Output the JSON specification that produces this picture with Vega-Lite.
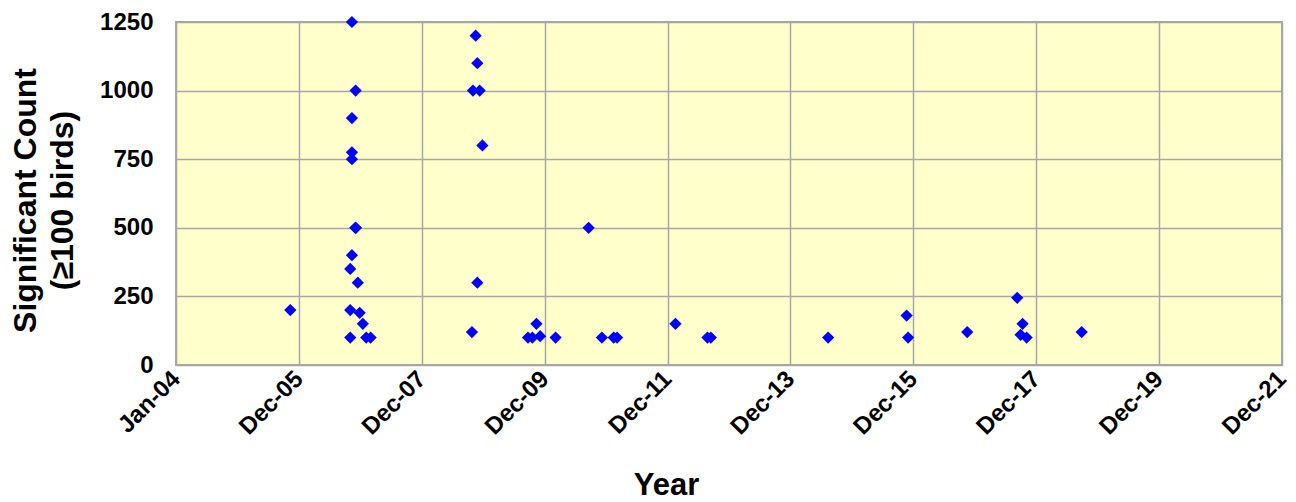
{
  "$schema": "https://vega.github.io/schema/vega-lite/v6.json",
  "width": 1106,
  "height": 343,
  "autosize": "none",
  "padding": {"left": 176, "top": 22, "right": 14, "bottom": 137},
  "background": "white",
  "view": {"fill": "#FFFFCC", "stroke": "#A6A6A6", "strokeWidth": 2},
  "config": {"font": "Liberation Sans"},
  "data": {
    "values": [
      {"date": "2005-11-10", "count": 200},
      {"date": "2006-11-01", "count": 100},
      {"date": "2006-11-01", "count": 200},
      {"date": "2006-11-01", "count": 350},
      {"date": "2006-11-11", "count": 1250},
      {"date": "2006-11-11", "count": 900},
      {"date": "2006-11-11", "count": 775},
      {"date": "2006-11-11", "count": 750},
      {"date": "2006-11-11", "count": 400},
      {"date": "2006-12-03", "count": 1000},
      {"date": "2006-12-01", "count": 500},
      {"date": "2006-12-05", "count": 500},
      {"date": "2006-12-16", "count": 300},
      {"date": "2006-12-27", "count": 190},
      {"date": "2007-01-15", "count": 150},
      {"date": "2007-02-04", "count": 100},
      {"date": "2007-03-02", "count": 100},
      {"date": "2008-10-24", "count": 120},
      {"date": "2008-10-30", "count": 1000},
      {"date": "2008-11-15", "count": 1200},
      {"date": "2008-11-25", "count": 1100},
      {"date": "2008-11-25", "count": 300},
      {"date": "2008-12-09", "count": 1000},
      {"date": "2008-12-25", "count": 800},
      {"date": "2009-09-22", "count": 100},
      {"date": "2009-10-18", "count": 100},
      {"date": "2009-11-11", "count": 150},
      {"date": "2009-12-03", "count": 105},
      {"date": "2010-03-05", "count": 100},
      {"date": "2010-09-17", "count": 500},
      {"date": "2010-12-05", "count": 100},
      {"date": "2011-02-13", "count": 100},
      {"date": "2011-03-05", "count": 100},
      {"date": "2012-02-15", "count": 150},
      {"date": "2012-08-23", "count": 100},
      {"date": "2012-09-12", "count": 100},
      {"date": "2014-08-10", "count": 100},
      {"date": "2015-11-19", "count": 180},
      {"date": "2015-11-28", "count": 100},
      {"date": "2016-11-13", "count": 120},
      {"date": "2017-09-06", "count": 245},
      {"date": "2017-09-26", "count": 110},
      {"date": "2017-10-08", "count": 150},
      {"date": "2017-11-01", "count": 100},
      {"date": "2018-09-24", "count": 120}
    ]
  },
  "mark": {"type": "point", "shape": "diamond", "filled": true, "color": "#0000FF", "size": 150, "opacity": 1},
  "encoding": {
    "x": {
      "field": "date",
      "type": "temporal",
      "scale": {
        "type": "utc",
        "domain": [
          {"year": 2004, "month": 1, "date": 1, "utc": true},
          {"year": 2021, "month": 12, "date": 27, "utc": true}
        ]
      },
      "axis": {
        "values": [
          {"year": 2004, "month": 1, "date": 1, "utc": true},
          {"year": 2005, "month": 12, "date": 31, "utc": true},
          {"year": 2007, "month": 12, "date": 31, "utc": true},
          {"year": 2009, "month": 12, "date": 30, "utc": true},
          {"year": 2011, "month": 12, "date": 30, "utc": true},
          {"year": 2013, "month": 12, "date": 29, "utc": true},
          {"year": 2015, "month": 12, "date": 29, "utc": true},
          {"year": 2017, "month": 12, "date": 28, "utc": true},
          {"year": 2019, "month": 12, "date": 28, "utc": true},
          {"year": 2021, "month": 12, "date": 27, "utc": true}
        ],
        "format": "%b-%y",
        "title": "Year",
        "titleFontSize": 31,
        "titleFontWeight": "bold",
        "titleColor": "#000000",
        "titleAnchor": "middle",
        "titleX": 490,
        "titleY": 129,
        "titleBaseline": "alphabetic",
        "labelAngle": -45,
        "labelAlign": "right",
        "labelBaseline": "middle",
        "labelFontSize": 24,
        "labelFontWeight": "bold",
        "labelColor": "#000000",
        "labelPadding": 10,
        "labelOverlap": false,
        "labelFlush": false,
        "ticks": false,
        "domain": false,
        "grid": true,
        "gridColor": "#A6A6A6",
        "gridWidth": 1.5,
        "gridOpacity": 1
      }
    },
    "y": {
      "field": "count",
      "type": "quantitative",
      "scale": {"domain": [0, 1250], "nice": false, "zero": true},
      "axis": {
        "values": [0, 250, 500, 750, 1000, 1250],
        "format": "d",
        "title": ["Significant Count", "(≥100 birds)"],
        "titleFontSize": 32,
        "titleFontWeight": "bold",
        "titleColor": "#000000",
        "titleAngle": -90,
        "titleAlign": "center",
        "titleBaseline": "top",
        "titleLineHeight": 37,
        "titleX": -166,
        "titleY": 178,
        "labelFontSize": 24,
        "labelFontWeight": "bold",
        "labelColor": "#000000",
        "labelPadding": 23,
        "labelFlush": false,
        "ticks": false,
        "domain": false,
        "grid": true,
        "gridColor": "#A6A6A6",
        "gridWidth": 1.5,
        "gridOpacity": 1
      }
    }
  }
}
